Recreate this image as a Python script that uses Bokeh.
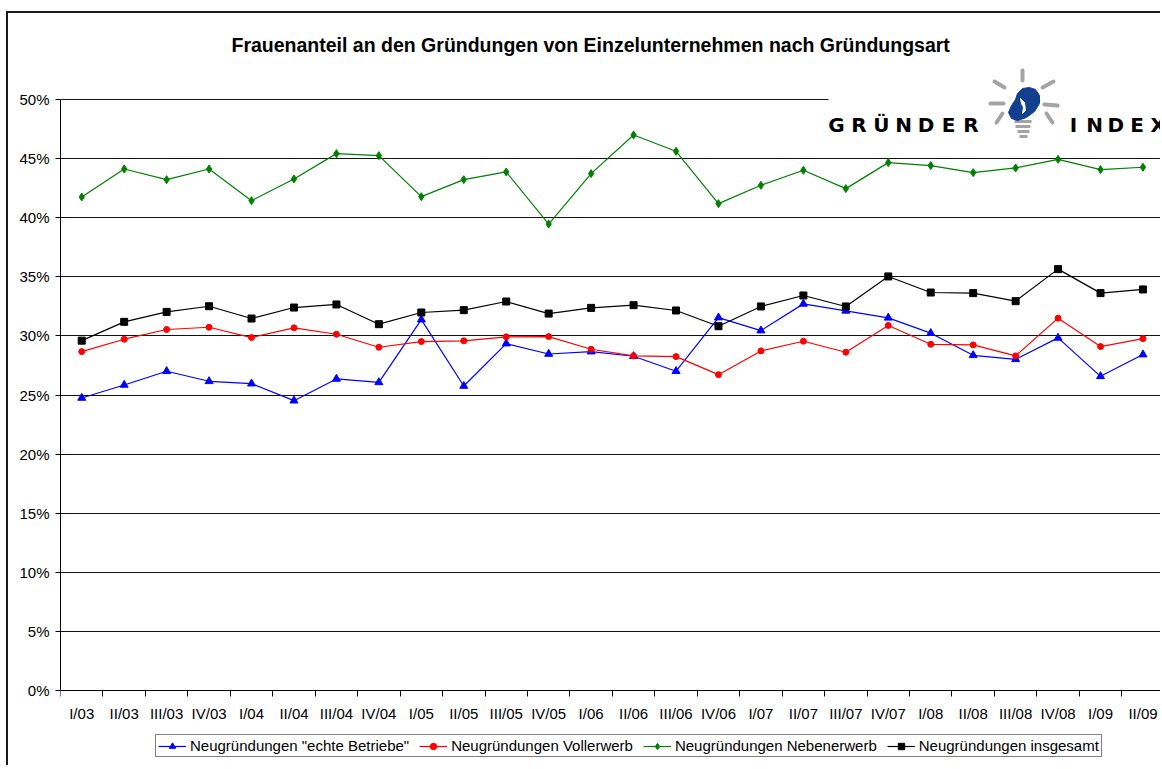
from bokeh.plotting import figure
from bokeh.models import Range1d, FixedTicker, Legend, LegendItem, Title
from bokeh.embed import file_html
from bokeh.resources import INLINE
from bokeh.core.properties import value

# ---------------- data ----------------
quarters = ["I/03", "II/03", "III/03", "IV/03", "I/04", "II/04", "III/04", "IV/04",
            "I/05", "II/05", "III/05", "IV/05", "I/06", "II/06", "III/06", "IV/06",
            "I/07", "II/07", "III/07", "IV/07", "I/08", "II/08", "III/08", "IV/08",
            "I/09", "II/09"]
echte_betriebe = [24.75, 25.85, 27.01, 26.16, 25.96, 24.52, 26.36, 26.07, 31.38, 25.76,
                  29.35, 28.47, 28.67, 28.28, 27.01, 31.55, 30.45, 32.71, 32.12, 31.53,
                  30.23, 28.36, 28.02, 29.83, 26.58, 28.42]
vollerwerb = [28.67, 29.72, 30.54, 30.73, 29.86, 30.68, 30.14, 29.04, 29.52, 29.58,
              29.92, 29.94, 28.87, 28.31, 28.25, 26.72, 28.73, 29.55, 28.62, 30.88,
              29.29, 29.24, 28.31, 31.50, 29.10, 29.77]
nebenerwerb = [41.75, 44.12, 43.22, 44.12, 41.44, 43.28, 45.42, 45.25, 41.78, 43.22,
               43.87, 39.46, 43.73, 47.00, 45.62, 41.19, 42.74, 44.01, 42.46, 44.66,
               44.41, 43.81, 44.21, 44.94, 44.07, 44.27]
insgesamt = [29.60, 31.19, 32.03, 32.51, 31.47, 32.40, 32.66, 30.99, 31.98, 32.18,
             32.91, 31.89, 32.37, 32.60, 32.15, 30.82, 32.49, 33.42, 32.49, 35.03,
             33.67, 33.62, 32.94, 35.65, 33.62, 33.93]
series_labels = ['Neugründungen "echte Betriebe"', "Neugründungen Vollerwerb",
                 "Neugründungen Nebenerwerb", "Neugründungen insgesamt"]
y_ticks = [0, 5, 10, 15, 20, 25, 30, 35, 40, 45, 50]
title_text = "Frauenanteil an den Gründungen von Einzelunternehmen nach Gründungsart"

FONT = "Liberation Sans"

# ---------------- layout ----------------
# page content starts at (8, 13) because of the left/top frame border
W, H = 1154, 754
BL, BT = 52, 49
CAT_PX = 42.45                     # pixel width of one quarter
PCT_PX = 11.82                     # pixels per percentage point
REF_LEFT, REF_TOP, REF_BOTTOM, REF_ZERO = 60, 62, 767, 690
frame_w = W - BL
x_end = -0.5 + frame_w / CAT_PX
y_end = (REF_ZERO - REF_TOP) / PCT_PX
y_start = -(REF_BOTTOM - REF_ZERO) / PCT_PX

p = figure(width=W, height=H, output_backend="svg", toolbar_location=None,
           x_range=Range1d(-0.5, x_end), y_range=Range1d(y_start, y_end),
           min_border_left=BL, min_border_right=0, min_border_top=BT,
           min_border_bottom=0)
p.styles = {"margin-left": "6px", "margin-top": "11px",
            "border-left": "2px solid #1a1a1a", "border-top": "2px solid #1a1a1a"}
p.outline_line_color = None
p.background_fill_color = "white"
p.border_fill_color = "white"

p.title = Title(text=title_text, align="left", offset=171, standoff=14,
                text_font=FONT, text_font_size="19.5px", text_font_style="bold",
                text_color="black")

# y axis
p.yaxis.ticker = FixedTicker(ticks=y_ticks)
p.yaxis.major_label_overrides = {t: f"{t}%" for t in y_ticks}
p.yaxis.bounds = (0, 50)
p.yaxis.major_tick_in = 0
p.yaxis.major_tick_out = 5
p.yaxis.minor_tick_line_color = None
p.yaxis.major_label_standoff = 6
p.yaxis.axis_line_color = "black"
p.yaxis.major_tick_line_color = "black"
p.yaxis.major_label_text_font = FONT
p.yaxis.major_label_text_font_size = "15px"
p.yaxis.major_label_text_color = "black"

# x axis (drawn at 0 %, inside the frame)
xs = list(range(len(quarters)))
p.xaxis.fixed_location = 0
p.xaxis.ticker = FixedTicker(ticks=xs, minor_ticks=[i - 0.5 for i in range(len(quarters) + 1)])
p.xaxis.major_label_overrides = {i: q for i, q in enumerate(quarters)}
p.xaxis.major_tick_line_color = None
p.xaxis.major_tick_in = 0
p.xaxis.major_tick_out = 0
p.xaxis.minor_tick_in = 0
p.xaxis.minor_tick_out = 6
p.xaxis.minor_tick_line_color = "black"
p.xaxis.axis_line_color = "black"
p.xaxis.major_label_standoff = 8
p.xaxis.major_label_text_font = FONT
p.xaxis.major_label_text_font_size = "15px"
p.xaxis.major_label_text_color = "black"

p.xgrid.visible = False
p.ygrid.ticker = FixedTicker(ticks=y_ticks)
p.ygrid.grid_line_color = "#111111"
p.ygrid.grid_line_width = 1

# ---------------- series ----------------
styles = [("#0000FF", "triangle", 8), ("#FF0000", "circle", 6),
          ("#008000", "diamond", 8), ("#000000", "square", 7)]
items = []
for vals, lab, (col, mk, sz) in zip([echte_betriebe, vollerwerb, nebenerwerb, insgesamt],
                                    series_labels, styles):
    lr = p.line(xs, vals, line_color=col, line_width=1.2)
    sr = p.scatter(xs, vals, marker=mk, size=sz, fill_color=col, line_color=col)
    items.append(LegendItem(label=lab, renderers=[lr, sr]))

legend = Legend(items=items, orientation="horizontal", location=(95, 10),
                border_line_color="black", border_line_width=1,
                background_fill_color="white", background_fill_alpha=1,
                padding=2, spacing=10, margin=0, glyph_width=28, glyph_height=16,
                label_height=16, label_standoff=4,
                label_text_font=FONT, label_text_font_size="15px",
                label_text_color="black")
p.add_layout(legend)

# ---------------- logo (decoration, placed in pixel terms) ----------------
def X(px):
    return -0.5 + (px - REF_LEFT) / CAT_PX

def Y(py):
    return (REF_ZERO - py) / PCT_PX

p.quad(left=[X(828)], right=[X(1200)], bottom=[Y(146)], top=[Y(60)],
       fill_color="white", line_color=None)

rays = [((1022, 70), (1022, 80)), ((994, 81), (1004, 87)), ((1042, 87), (1053, 81)),
        ((990, 103), (1003, 103)), ((1044, 104), (1057, 105)),
        ((1002, 113), (996, 122)), ((1046, 113), (1052, 122))]
p.segment(x0=[X(a[0]) for a, b in rays], y0=[Y(a[1]) for a, b in rays],
          x1=[X(b[0]) for a, b in rays], y1=[Y(b[1]) for a, b in rays],
          line_color="#a4a4a4", line_width=4, line_cap="round")

screw = [(1014, 1031, 121), (1015, 1030, 126), (1017, 1029, 131), (1019, 1027, 136)]
p.segment(x0=[X(a) for a, b, c in screw], y0=[Y(c) for a, b, c in screw],
          x1=[X(b) for a, b, c in screw], y1=[Y(c) for a, b, c in screw],
          line_color="#a4a4a4", line_width=3)

blob = [(1029, 87), (1035, 89), (1039, 95), (1039, 103), (1034, 111), (1026, 117),
        (1017, 120), (1011, 118), (1008, 112), (1011, 105), (1015, 99), (1017, 93),
        (1022, 88)]
p.patch([X(a) for a, b in blob], [Y(b) for a, b in blob],
        fill_color="#133f8f", line_color="#133f8f")
slit = [(1020, 98), (1024, 102), (1025, 110), (1022, 113), (1023, 107), (1021, 103)]
p.patch([X(a) for a, b in slit], [Y(b) for a, b in slit],
        fill_color="white", line_color="white")

gr = "GRÜNDER"
p.text(x=[X(836 + 22.4 * k) for k in range(len(gr))], y=[Y(124)] * len(gr),
       text=list(gr), text_align="center", text_baseline="middle",
       text_font=value("DejaVu Sans"), text_font_size="20px", text_font_style="bold",
       text_color="black")
ix = "INDEX"
p.text(x=[X(1073 + 21.2 * k) for k in range(len(ix))], y=[Y(124)] * len(ix),
       text=list(ix), text_align="center", text_baseline="middle",
       text_font=value("DejaVu Sans"), text_font_size="20px", text_font_style="bold",
       text_color="black")

open("out.html", "w").write(file_html(p, INLINE))
